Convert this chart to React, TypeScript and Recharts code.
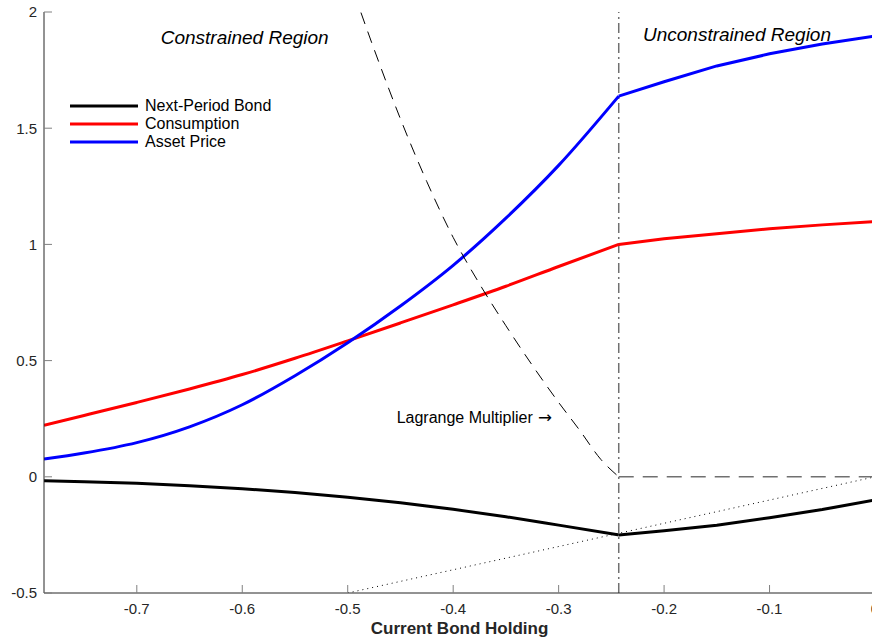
import { LineChart, Line, XAxis, YAxis, ReferenceLine, ReferenceDot, Legend } from 'recharts';

// kink where the borrowing constraint stops binding
const KINK = -0.243;

const xConstrained = [-0.788, -0.75, -0.7, -0.65, -0.6, -0.55, -0.5, -0.45, -0.4, -0.35, -0.3, KINK];
const bondConstrained = [-0.017, -0.021, -0.028, -0.038, -0.051, -0.068, -0.088, -0.112, -0.14, -0.172, -0.208, -0.25];
const consConstrained = [0.222, 0.264, 0.32, 0.378, 0.44, 0.51, 0.585, 0.662, 0.74, 0.82, 0.905, 1.0];
const priceConstrained = [0.076, 0.102, 0.147, 0.215, 0.31, 0.435, 0.577, 0.735, 0.91, 1.113, 1.34, 1.638];

const xUnconstrained = [KINK, -0.2, -0.15, -0.1, -0.05, 0];
const bondUnconstrained = [-0.25, -0.232, -0.208, -0.176, -0.141, -0.1];
const consUnconstrained = [1.0, 1.024, 1.046, 1.067, 1.084, 1.098];
const priceUnconstrained = [1.638, 1.7, 1.768, 1.82, 1.862, 1.897];

const xMultiplier = [-0.5, -0.475, -0.45, -0.425, -0.4, -0.375, -0.35, -0.325, -0.3, -0.28, -0.26, KINK];
const multiplier = [2.16, 1.84, 1.54, 1.27, 1.03, 0.83, 0.65, 0.48, 0.32, 0.2, 0.075, 0];

const xMultiplierZero = [KINK, 0];
const multiplierZero = [0, 0];

const xDiagonal = [-0.5, 0];
const diagonal = [-0.5, 0];

const xTicks = [-0.7, -0.6, -0.5, -0.4, -0.3, -0.2, -0.1, 0];
const yTicks = [-0.5, 0, 0.5, 1, 1.5, 2];

const SERIES = [
  { name: 'Next-Period Bond', color: '#000000' },
  { name: 'Consumption', color: '#ff0000' },
  { name: 'Asset Price', color: '#0000ff' },
];

const zip = (xs: number[], ys: number[]) => xs.map((x, i) => ({ x, y: ys[i] }));

const AXIS = '#262626';
const TICK = '#808080';

const textAt = (value: string, size: number, italic: boolean, arrow = false) => (props: any) => {
  const { viewBox } = props;
  return (
    <text
      x={viewBox.x}
      y={viewBox.y}
      fontSize={size}
      fontStyle={italic ? 'italic' : 'normal'}
      fill="#000"
      textAnchor="start"
    >
      {value}
      {arrow && <tspan fontFamily="DejaVu Sans" fontSize={size * 1.05}>{' \u2192'}</tspan>}
    </text>
  );
};

function LegendBox() {
  return (
    <div style={{ display: 'flex', flexDirection: 'column' }}>
      {SERIES.map((s) => (
        <div key={s.name} style={{ display: 'flex', alignItems: 'center', height: 18 }}>
          <svg width={68} height={6} style={{ marginRight: 7 }}>
            <line x1={0} y1={3} x2={68} y2={3} stroke={s.color} strokeWidth={3} />
          </svg>
          <span style={{ fontSize: 16, color: '#000', lineHeight: '18px' }}>{s.name}</span>
        </div>
      ))}
    </div>
  );
}

export default function App() {
  const domainX: [number, number] = [-0.788, 0];
  const domainY: [number, number] = [-0.5, 2];

  return (
    <div
      style={{
        position: 'absolute',
        left: 0,
        top: 0,
        width: 872,
        height: 642,
        overflow: 'hidden',
        background: '#fff',
        fontFamily: '"Liberation Sans", Arial, Helvetica, sans-serif',
      }}
    >
      <LineChart width={900} height={642} margin={{ top: 12, right: 25, left: 0, bottom: 0 }}>
        <XAxis
          dataKey="x"
          type="number"
          domain={domainX}
          ticks={xTicks}
          allowDataOverflow
          height={49}
          stroke={AXIS}
          tickSize={-8}
          tickMargin={18}
          tickLine={{ stroke: TICK }}
          tick={{ fontSize: 15, fill: AXIS }}
          tickFormatter={(v: number) => (v === 0 ? '0' : v.toFixed(1))}
          label={{
            value: 'Current Bond Holding',
            position: 'insideBottom',
            offset: 8,
            style: { fontWeight: 'bold', fontSize: 17, fill: AXIS },
          }}
        />
        <XAxis
          xAxisId="top"
          orientation="top"
          dataKey="x"
          type="number"
          domain={domainX}
          ticks={xTicks}
          height={0}
          stroke={AXIS}
          tickSize={-8}
          tickLine={{ stroke: TICK }}
          tick={false}
        />
        <YAxis
          type="number"
          domain={domainY}
          ticks={yTicks}
          allowDataOverflow
          width={44}
          stroke={AXIS}
          tickSize={-8}
          tickMargin={15}
          tickLine={{ stroke: TICK }}
          tick={{ fontSize: 15, fill: AXIS }}
          tickFormatter={(v: number) => String(v)}
        />
        <YAxis
          yAxisId="right"
          orientation="right"
          type="number"
          domain={domainY}
          ticks={yTicks}
          width={0}
          stroke={AXIS}
          tickSize={-8}
          tickLine={{ stroke: TICK }}
          tick={false}
        />

        <ReferenceLine x={KINK} stroke="#707070" strokeWidth={1.5} strokeDasharray="10 4 2 4" />

        <Line data={zip(xDiagonal, diagonal)} dataKey="y" type="linear" stroke="#000" strokeWidth={1} strokeDasharray="1 4" dot={false} isAnimationActive={false} />
        <Line data={zip(xMultiplierZero, multiplierZero)} dataKey="y" type="linear" stroke="#707070" strokeWidth={1.5} strokeDasharray="15 9" dot={false} isAnimationActive={false} />

        <Line data={zip(xConstrained, bondConstrained)} dataKey="y" type="monotone" stroke={SERIES[0].color} strokeWidth={3} dot={false} isAnimationActive={false} />
        <Line data={zip(xUnconstrained, bondUnconstrained)} dataKey="y" type="linear" stroke={SERIES[0].color} strokeWidth={3} dot={false} isAnimationActive={false} />
        <Line data={zip(xConstrained, consConstrained)} dataKey="y" type="monotone" stroke={SERIES[1].color} strokeWidth={3} dot={false} isAnimationActive={false} />
        <Line data={zip(xUnconstrained, consUnconstrained)} dataKey="y" type="linear" stroke={SERIES[1].color} strokeWidth={3} dot={false} isAnimationActive={false} />
        <Line data={zip(xConstrained, priceConstrained)} dataKey="y" type="monotone" stroke={SERIES[2].color} strokeWidth={3} dot={false} isAnimationActive={false} />
        <Line data={zip(xUnconstrained, priceUnconstrained)} dataKey="y" type="linear" stroke={SERIES[2].color} strokeWidth={3} dot={false} isAnimationActive={false} />

        <Line data={zip(xMultiplier, multiplier)} dataKey="y" type="monotone" stroke="#000" strokeWidth={1} strokeDasharray="12 8" dot={false} isAnimationActive={false} />

        <ReferenceDot x={-0.6773} y={1.862} r={0} fill="none" stroke="none" label={textAt('Constrained Region', 19, true)} />
        <ReferenceDot x={-0.22} y={1.875} r={0} fill="none" stroke="none" label={textAt('Unconstrained Region', 19, true)} />
        <ReferenceDot x={-0.4536} y={0.233} r={0} fill="none" stroke="none" label={textAt('Lagrange Multiplier', 16, false, true)} />

        <Legend
          layout="vertical"
          align="center"
          verticalAlign="middle"
          content={() => <LegendBox />}
          wrapperStyle={{ left: 70, top: 97, width: 'auto', height: 'auto' }}
        />
      </LineChart>
    </div>
  );
}
